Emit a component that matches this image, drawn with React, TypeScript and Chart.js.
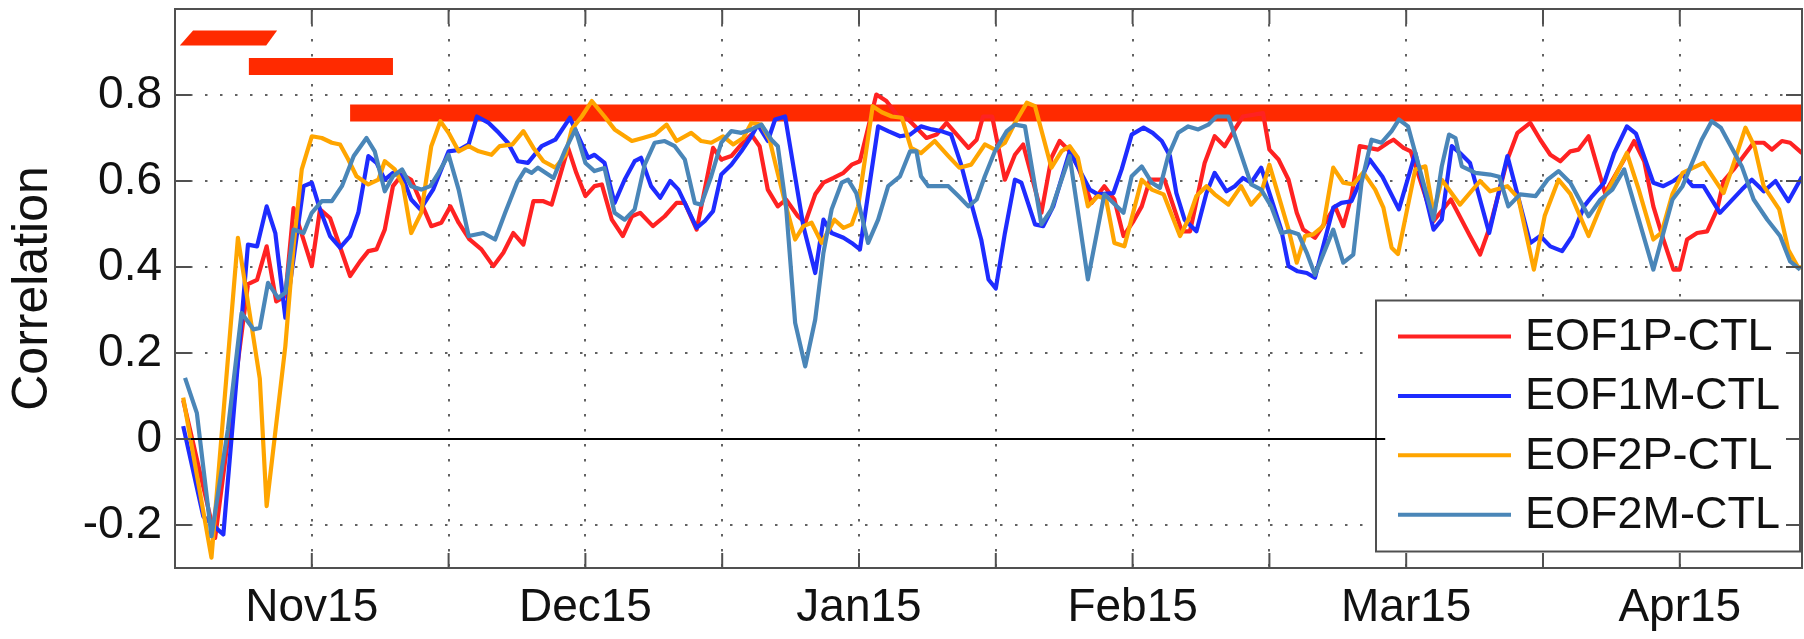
import React, { useEffect, useRef } from "react";
import { Chart, registerables } from "chart.js";

Chart.register(...registerables);

const FONT = '"Liberation Sans", Arial, Helvetica, sans-serif';

// ---- axis definitions (days since 31 Oct) ----
const xGridDays = [0, 15, 30, 45, 60, 75, 90, 105, 120, 135, 150, 165];
const xTickDays = [15, 45, 75, 105, 135, 165];
const xTickLabels = ["Nov15", "Dec15", "Jan15", "Feb15", "Mar15", "Apr15"];
const yTickValues = [-0.2, 0, 0.2, 0.4, 0.6, 0.8];
const xMinDay = 0;
const xMaxDay = 178.4;
const yMinVal = -0.3;
const yMaxVal = 1.0;

const seriesNames = ["EOF1P-CTL", "EOF1M-CTL", "EOF2P-CTL", "EOF2M-CTL"];

// ---- EOF1P-CTL ----
const eof1pDays = [0.9, 4.4, 8.0, 9.0, 10.05, 11.1, 12.1, 13.0, 15.0, 15.9, 17.0, 19.2, 20.3, 21.2, 22.1, 23.0, 23.9, 24.9, 25.9, 27.0, 28.1, 29.2, 30.2, 31.1, 32.3, 33.6, 34.9, 36.0, 37.1, 38.2, 39.3, 40.4, 41.3, 43.1, 44.0, 45.0, 46.0, 46.8, 47.9, 49.1, 50.1, 51.0, 52.4, 53.7, 55.0, 55.9, 57.2, 59.0, 59.9, 61.0, 62.1, 63.2, 64.1, 65.0, 66.1, 67.0, 68.3, 69.1, 70.2, 71.1, 72.2, 73.3, 74.2, 75.1, 76.9, 78.0, 79.3, 80.4, 81.3, 82.4, 83.5, 84.6, 87.0, 87.9, 88.6, 89.6, 91.0, 92.1, 93.0, 95.0, 96.1, 97.0, 98.1, 99.0, 100.5, 101.9, 103.0, 104.0, 105.1, 106.0, 106.9, 108.5, 110.4, 111.3, 112.9, 114.0, 115.1, 116.2, 117.1, 119.3, 120.0, 121.0, 122.1, 123.0, 123.7, 125.0, 126.1, 127.2, 128.1, 129.0, 129.9, 131.9, 133.0, 133.6, 134.7, 135.5, 138.0, 139.9, 142.0, 143.1, 144.2, 146.1, 147.2, 148.6, 149.7, 150.8, 151.9, 153.0, 153.9, 155.0, 156.8, 158.9, 160.0, 161.1, 162.1, 163.2, 164.3, 165.0, 165.8, 166.9, 168.0, 169.1, 169.8, 170.9, 172.0, 173.1, 174.2, 175.1, 176.2, 177.1, 178.4];
const eof1pVals = [0.09, -0.23, 0.36, 0.37, 0.448, 0.32, 0.332, 0.537, 0.402, 0.534, 0.514, 0.379, 0.413, 0.437, 0.441, 0.487, 0.588, 0.615, 0.603, 0.549, 0.495, 0.503, 0.541, 0.503, 0.464, 0.441, 0.402, 0.433, 0.479, 0.452, 0.553, 0.553, 0.545, 0.677, 0.619, 0.565, 0.588, 0.592, 0.51, 0.472, 0.518, 0.526, 0.495, 0.518, 0.549, 0.549, 0.487, 0.677, 0.65, 0.658, 0.685, 0.708, 0.681, 0.58, 0.541, 0.557, 0.518, 0.503, 0.569, 0.596, 0.607, 0.619, 0.638, 0.646, 0.801, 0.786, 0.75, 0.743, 0.724, 0.7, 0.708, 0.735, 0.677, 0.696, 0.75, 0.75, 0.603, 0.661, 0.685, 0.526, 0.654, 0.693, 0.669, 0.634, 0.549, 0.588, 0.557, 0.472, 0.507, 0.541, 0.603, 0.603, 0.483, 0.483, 0.642, 0.704, 0.681, 0.72, 0.75, 0.758, 0.673, 0.65, 0.603, 0.526, 0.487, 0.468, 0.503, 0.541, 0.495, 0.565, 0.681, 0.673, 0.689, 0.696, 0.677, 0.669, 0.507, 0.557, 0.472, 0.429, 0.495, 0.65, 0.712, 0.735, 0.696, 0.661, 0.646, 0.669, 0.673, 0.704, 0.572, 0.65, 0.693, 0.646, 0.541, 0.464, 0.394, 0.394, 0.464, 0.479, 0.483, 0.534, 0.6, 0.627, 0.658, 0.689, 0.689, 0.673, 0.693, 0.689, 0.665];

// ---- EOF1M-CTL ----
const eof1mDays = [0.9, 3.1, 5.3, 8.0, 9.0, 10.05, 11.0, 12.1, 14.1, 15.0, 15.9, 17.0, 18.1, 19.2, 20.1, 21.2, 22.1, 23.0, 23.9, 24.9, 25.9, 26.9, 28.3, 30.0, 31.1, 32.2, 33.1, 34.4, 35.5, 36.5, 37.6, 38.7, 40.2, 41.7, 43.3, 45.3, 46.0, 47.1, 48.2, 49.3, 50.4, 51.1, 52.2, 53.2, 54.3, 55.2, 57.2, 58.1, 59.0, 59.9, 61.0, 62.1, 63.2, 63.9, 65.0, 65.8, 66.9, 68.9, 70.2, 71.1, 72.0, 73.3, 74.2, 75.1, 77.1, 78.2, 79.5, 80.6, 81.8, 83.0, 84.0, 85.1, 86.2, 87.3, 88.4, 89.2, 90.0, 91.0, 92.1, 92.8, 94.3, 95.2, 96.3, 98.1, 100.3, 101.2, 102.9, 103.8, 104.9, 106.2, 107.2, 108.2, 109.1, 109.8, 110.7, 112.0, 113.1, 114.0, 115.3, 116.2, 117.1, 118.0, 119.1, 121.3, 122.1, 123.1, 124.1, 125.0, 127.0, 127.9, 129.0, 131.0, 132.4, 134.2, 136.0, 138.0, 138.9, 140.0, 140.9, 142.0, 144.1, 146.1, 148.6, 149.7, 150.8, 152.1, 153.2, 154.5, 155.4, 156.7, 157.8, 159.2, 160.2, 162.1, 163.2, 164.3, 165.3, 166.4, 167.6, 169.4, 171.8, 172.9, 174.2, 175.5, 176.9, 178.4];
const eof1mVals = [0.03, -0.18, -0.222, 0.452, 0.448, 0.541, 0.479, 0.282, 0.588, 0.596, 0.534, 0.472, 0.445, 0.472, 0.526, 0.658, 0.642, 0.603, 0.619, 0.612, 0.557, 0.534, 0.58, 0.669, 0.672, 0.685, 0.75, 0.735, 0.712, 0.689, 0.646, 0.642, 0.681, 0.696, 0.747, 0.654, 0.661, 0.642, 0.549, 0.603, 0.646, 0.654, 0.588, 0.561, 0.6, 0.58, 0.491, 0.507, 0.53, 0.615, 0.638, 0.669, 0.704, 0.731, 0.693, 0.743, 0.75, 0.495, 0.386, 0.51, 0.479, 0.468, 0.456, 0.441, 0.727, 0.716, 0.704, 0.708, 0.727, 0.72, 0.716, 0.708, 0.638, 0.549, 0.464, 0.371, 0.35, 0.479, 0.603, 0.596, 0.499, 0.495, 0.541, 0.669, 0.58, 0.569, 0.572, 0.627, 0.708, 0.724, 0.712, 0.693, 0.658, 0.572, 0.51, 0.483, 0.572, 0.619, 0.576, 0.588, 0.607, 0.596, 0.631, 0.487, 0.402, 0.39, 0.386, 0.375, 0.538, 0.549, 0.553, 0.65, 0.61, 0.534, 0.665, 0.487, 0.51, 0.681, 0.665, 0.642, 0.479, 0.658, 0.456, 0.472, 0.448, 0.437, 0.472, 0.541, 0.565, 0.596, 0.665, 0.727, 0.71, 0.596, 0.588, 0.6, 0.615, 0.588, 0.588, 0.526, 0.58, 0.603, 0.576, 0.6, 0.553, 0.61];

// ---- EOF2P-CTL ----
const eof2pDays = [0.9, 4.0, 6.9, 8.2, 9.3, 10.05, 12.1, 13.0, 13.9, 15.0, 16.1, 17.2, 18.1, 19.0, 19.9, 21.2, 22.3, 23.0, 24.1, 25.0, 25.9, 27.0, 28.1, 29.1, 30.0, 31.1, 32.2, 33.3, 34.7, 35.6, 37.0, 38.2, 39.3, 40.4, 41.7, 42.8, 43.5, 44.6, 45.7, 47.1, 48.2, 50.1, 51.3, 52.6, 53.9, 55.0, 56.6, 57.7, 58.8, 60.1, 61.2, 62.3, 63.2, 64.3, 65.2, 65.9, 67.0, 68.0, 68.9, 69.8, 70.9, 72.3, 73.3, 74.2, 74.9, 76.5, 77.5, 78.6, 79.7, 80.7, 81.8, 83.3, 84.8, 86.0, 87.3, 88.8, 89.9, 91.0, 92.1, 93.4, 94.3, 96.1, 97.2, 98.1, 99.0, 100.1, 101.2, 102.1, 103.0, 104.1, 106.0, 107.1, 108.4, 110.2, 111.1, 112.0, 113.1, 114.0, 115.5, 116.9, 118.0, 119.1, 120.0, 122.1, 123.0, 123.9, 124.8, 125.9, 127.0, 128.1, 129.2, 130.3, 131.6, 132.5, 133.4, 134.1, 136.0, 137.1, 138.0, 138.9, 140.9, 143.1, 144.2, 146.1, 147.3, 149.0, 150.2, 151.7, 153.0, 155.0, 156.7, 159.2, 160.5, 162.1, 163.0, 164.2, 165.3, 167.6, 169.8, 170.9, 172.2, 173.2, 174.2, 175.9, 176.9, 178.0, 178.4];
const eof2pVals = [0.096, -0.276, 0.468, 0.29, 0.14, -0.156, 0.216, 0.448, 0.627, 0.704, 0.7, 0.689, 0.685, 0.65, 0.611, 0.592, 0.603, 0.646, 0.627, 0.59, 0.479, 0.526, 0.681, 0.739, 0.712, 0.669, 0.681, 0.669, 0.661, 0.681, 0.685, 0.716, 0.677, 0.646, 0.631, 0.66, 0.72, 0.75, 0.786, 0.75, 0.72, 0.693, 0.7, 0.708, 0.731, 0.693, 0.712, 0.693, 0.689, 0.704, 0.685, 0.7, 0.735, 0.731, 0.696, 0.634, 0.541, 0.464, 0.495, 0.503, 0.456, 0.51, 0.491, 0.499, 0.541, 0.774, 0.76, 0.75, 0.747, 0.677, 0.665, 0.693, 0.658, 0.631, 0.638, 0.685, 0.673, 0.689, 0.735, 0.782, 0.774, 0.631, 0.669, 0.681, 0.654, 0.541, 0.565, 0.557, 0.456, 0.448, 0.603, 0.58, 0.569, 0.472, 0.51, 0.565, 0.588, 0.569, 0.545, 0.588, 0.545, 0.572, 0.638, 0.487, 0.41, 0.472, 0.476, 0.495, 0.631, 0.596, 0.592, 0.62, 0.58, 0.538, 0.445, 0.43, 0.627, 0.634, 0.526, 0.603, 0.545, 0.6, 0.576, 0.588, 0.56, 0.394, 0.52, 0.603, 0.57, 0.472, 0.56, 0.665, 0.58, 0.464, 0.48, 0.57, 0.619, 0.642, 0.572, 0.64, 0.724, 0.68, 0.588, 0.534, 0.44, 0.398, 0.4];

// ---- EOF2M-CTL ----
const eof2mDays = [1.1, 2.4, 4.0, 5.8, 7.3, 8.6, 9.3, 10.2, 11.3, 12.1, 13.0, 14.1, 15.0, 16.1, 17.2, 18.3, 19.6, 21.0, 21.9, 23.0, 23.9, 24.9, 25.9, 27.0, 28.0, 28.9, 30.0, 31.1, 32.2, 33.8, 35.1, 36.2, 37.5, 38.4, 39.1, 39.8, 41.5, 42.8, 43.9, 45.0, 46.0, 47.1, 48.2, 49.3, 50.4, 51.5, 52.6, 53.7, 54.8, 55.9, 57.0, 57.7, 58.8, 59.9, 61.0, 62.1, 63.2, 64.3, 65.4, 66.1, 67.0, 68.0, 69.1, 70.2, 71.1, 72.0, 73.1, 73.8, 74.7, 76.0, 77.1, 78.2, 79.5, 80.6, 81.3, 81.8, 82.6, 84.8, 85.9, 87.0, 87.9, 88.8, 89.9, 91.2, 92.1, 93.2, 95.0, 96.1, 98.1, 100.1, 101.9, 102.9, 104.0, 104.9, 106.0, 107.1, 108.0, 108.9, 110.0, 111.1, 112.2, 113.3, 114.2, 115.5, 118.0, 119.1, 120.2, 121.3, 122.2, 123.2, 124.1, 125.0, 127.0, 128.1, 129.2, 130.1, 131.2, 132.3, 133.4, 134.2, 135.2, 138.0, 138.9, 139.7, 140.4, 141.1, 142.6, 144.2, 145.2, 146.2, 147.5, 149.2, 150.5, 151.7, 153.0, 155.0, 156.3, 157.6, 158.9, 162.1, 164.2, 165.3, 167.4, 168.5, 169.5, 171.8, 173.1, 174.6, 176.0, 177.1, 178.2];
const eof2mVals = [0.142, 0.06, -0.226, 0.022, 0.293, 0.255, 0.258, 0.363, 0.328, 0.34, 0.487, 0.479, 0.526, 0.553, 0.553, 0.588, 0.658, 0.7, 0.669, 0.576, 0.611, 0.627, 0.588, 0.58, 0.588, 0.619, 0.661, 0.58, 0.472, 0.479, 0.464, 0.526, 0.596, 0.627, 0.619, 0.631, 0.607, 0.673, 0.72, 0.642, 0.623, 0.63, 0.526, 0.51, 0.534, 0.638, 0.689, 0.693, 0.681, 0.65, 0.549, 0.545, 0.611, 0.689, 0.716, 0.712, 0.72, 0.731, 0.696, 0.681, 0.541, 0.27, 0.169, 0.278, 0.433, 0.534, 0.596, 0.603, 0.572, 0.456, 0.51, 0.588, 0.611, 0.669, 0.669, 0.611, 0.588, 0.588, 0.565, 0.541, 0.557, 0.611, 0.669, 0.716, 0.731, 0.727, 0.499, 0.534, 0.658, 0.371, 0.569, 0.549, 0.526, 0.611, 0.634, 0.596, 0.584, 0.658, 0.712, 0.727, 0.72, 0.731, 0.75, 0.75, 0.592, 0.58, 0.541, 0.479, 0.483, 0.476, 0.433, 0.382, 0.487, 0.41, 0.429, 0.596, 0.696, 0.689, 0.716, 0.743, 0.727, 0.51, 0.634, 0.708, 0.7, 0.634, 0.619, 0.615, 0.61, 0.541, 0.569, 0.565, 0.603, 0.623, 0.596, 0.518, 0.557, 0.58, 0.627, 0.394, 0.557, 0.588, 0.696, 0.739, 0.724, 0.634, 0.557, 0.51, 0.472, 0.413, 0.394];

// ---- zero reference line and significance marks ----
const zeroLineDays = [0.9, 132.7];
const zeroLineVals = [0, 0];
const sigMark1Days = [0.53, 1.98, 11.2, 10.0, 0.53];
const sigMark1Vals = [0.915, 0.95, 0.95, 0.915, 0.915];
const sigMark2Days = [8.1, 23.9];
const sigMark2Vals = [0.866, 0.866];
const sigMark3Days = [19.2, 178.4];
const sigMark3Vals = [0.758, 0.758];

const toPoints = (days: number[], vals: number[]) =>
  days.map((d, i) => ({ x: d, y: vals[i] }));

const COLORS = ["#ff2222", "#1e2cff", "#ffa500", "#4a86b8"];
const SIG_COLOR = "#ff2a00";
const FRAME_COLOR = "#505050";

const legendPlugin = {
  id: "boxLegend",
  beforeDatasetsDraw(chart: any) {
    const ctx = chart.ctx as CanvasRenderingContext2D;
    const { right, bottom } = chart.chartArea;
    const boxR = right - 2;
    const boxB = bottom - 16.5;
    const boxL = boxR - 424;
    const boxT = boxB - 251;
    ctx.save();
    ctx.fillStyle = "#ffffff";
    ctx.fillRect(boxL, boxT, boxR - boxL, boxB - boxT);
    ctx.strokeStyle = FRAME_COLOR;
    ctx.lineWidth = 2;
    ctx.strokeRect(boxL, boxT, boxR - boxL, boxB - boxT);
    ctx.font = `45px ${FONT}`;
    ctx.textBaseline = "middle";
    ctx.textAlign = "left";
    seriesNames.forEach((name, i) => {
      const y = boxT + 36 + i * 59.4;
      ctx.strokeStyle = COLORS[i];
      ctx.lineWidth = 4;
      ctx.beginPath();
      ctx.moveTo(boxL + 22, y);
      ctx.lineTo(boxL + 135, y);
      ctx.stroke();
      ctx.fillStyle = "#111111";
      ctx.fillText(name, boxL + 149, y + 1);
    });
    ctx.restore();
  },
};

const framePlugin = {
  id: "matlabFrame",
  afterDatasetsDraw(chart: any) {
    const ctx = chart.ctx as CanvasRenderingContext2D;
    const { left, right, top, bottom } = chart.chartArea;
    const xs = chart.scales.x;
    const ys = chart.scales.y;
    ctx.save();
    ctx.strokeStyle = FRAME_COLOR;
    ctx.lineWidth = 2;
    ctx.strokeRect(left, top, right - left, bottom - top);
    ctx.beginPath();
    xGridDays.forEach((d) => {
      const px = xs.getPixelForValue(d);
      if (px <= left + 1 || px >= right - 1) return;
      ctx.moveTo(px, bottom);
      ctx.lineTo(px, bottom - 15);
      ctx.moveTo(px, top);
      ctx.lineTo(px, top + 15);
    });
    yTickValues.forEach((v) => {
      const py = ys.getPixelForValue(v);
      ctx.moveTo(left, py);
      ctx.lineTo(left + 16, py);
      ctx.moveTo(right, py);
      ctx.lineTo(right - 16, py);
    });
    ctx.stroke();
    ctx.restore();
  },
};

export default function App() {
  const canvasRef = useRef<HTMLCanvasElement | null>(null);

  useEffect(() => {
    document.body.style.margin = "0";
    const canvas = canvasRef.current;
    if (!canvas) return;

    const lineDs = (label: string, days: number[], vals: number[], color: string, order: number) => ({
      label,
      data: toPoints(days, vals),
      borderColor: color,
      backgroundColor: color,
      borderWidth: 4.2,
      pointRadius: 0,
      tension: 0,
      fill: false,
      order,
      borderJoinStyle: "round" as const,
    });

    const chart = new Chart(canvas, {
      type: "line",
      data: {
        datasets: [
          lineDs(seriesNames[0], eof1pDays, eof1pVals, COLORS[0], 4),
          lineDs(seriesNames[1], eof1mDays, eof1mVals, COLORS[1], 3),
          lineDs(seriesNames[2], eof2pDays, eof2pVals, COLORS[2], 2),
          lineDs(seriesNames[3], eof2mDays, eof2mVals, COLORS[3], 1),
          {
            label: "zero",
            data: toPoints(zeroLineDays, zeroLineVals),
            borderColor: "#000000",
            borderWidth: 2,
            pointRadius: 0,
            fill: false,
            order: 0,
          },
          {
            label: "sig1",
            data: toPoints(sigMark1Days, sigMark1Vals),
            borderColor: "rgba(0,0,0,0)",
            backgroundColor: SIG_COLOR,
            borderWidth: 0,
            pointRadius: 0,
            fill: "shape",
            order: 12,
          },
          {
            label: "sig2",
            data: toPoints(sigMark2Days, sigMark2Vals),
            borderColor: SIG_COLOR,
            borderWidth: 17,
            borderCapStyle: "butt",
            pointRadius: 0,
            fill: false,
            order: 11,
          },
          {
            label: "sig3",
            data: toPoints(sigMark3Days, sigMark3Vals),
            borderColor: SIG_COLOR,
            borderWidth: 17,
            borderCapStyle: "butt",
            pointRadius: 0,
            fill: false,
            order: 10,
          },
        ],
      } as any,
      options: {
        responsive: false,
        animation: false,
        devicePixelRatio: 1,
        layout: { padding: { top: 9, right: 2, left: 0, bottom: 0 } },
        plugins: {
          legend: { display: false },
          tooltip: { enabled: false },
        },
        scales: {
          x: {
            type: "linear",
            min: xMinDay,
            max: xMaxDay,
            afterBuildTicks: (s: any) => {
              s.ticks = xGridDays.map((v) => ({ value: v }));
            },
            afterFit: (s: any) => {
              s.height = 71;
              s.paddingLeft = 0;
              s.paddingRight = 0;
              s.paddingTop = 0;
              s.paddingBottom = 0;
            },
            ticks: {
              autoSkip: false,
              maxRotation: 0,
              minRotation: 0,
              padding: 13,
              color: "#111111",
              font: { family: FONT, size: 46 },
              callback: (v: any) => {
                const i = xTickDays.indexOf(Number(v));
                return i >= 0 ? xTickLabels[i] : "";
              },
            },
            grid: { color: "rgba(70,70,70,0.85)", lineWidth: 2, drawTicks: false },
            border: { display: false, dash: [2.5, 12.5] },
          },
          y: {
            type: "linear",
            min: yMinVal,
            max: yMaxVal,
            afterBuildTicks: (s: any) => {
              s.ticks = yTickValues.map((v) => ({ value: v }));
            },
            afterFit: (s: any) => {
              s.width = 175;
              s.paddingTop = 0;
              s.paddingBottom = 0;
              s.paddingLeft = 0;
              s.paddingRight = 0;
            },
            ticks: {
              padding: 13,
              color: "#111111",
              font: { family: FONT, size: 46 },
              callback: (v: any) => (Number(v) === 0 ? "0" : Number(v).toFixed(1)),
            },
            grid: { color: "rgba(70,70,70,0.85)", lineWidth: 2, drawTicks: false },
            border: { display: false, dash: [2.5, 12.5] },
            title: {
              display: true,
              text: "Correlation",
              color: "#111111",
              font: { family: FONT, size: 50 },
              padding: { top: 3, bottom: 0 },
            },
          },
        },
      } as any,
      plugins: [legendPlugin, framePlugin],
    });

    return () => {
      chart.destroy();
    };
  }, []);

  return (
    <div style={{ width: 1804, height: 639 }}>
      <canvas ref={canvasRef} width={1804} height={639} style={{ width: 1804, height: 639, display: "block" }} />
    </div>
  );
}
